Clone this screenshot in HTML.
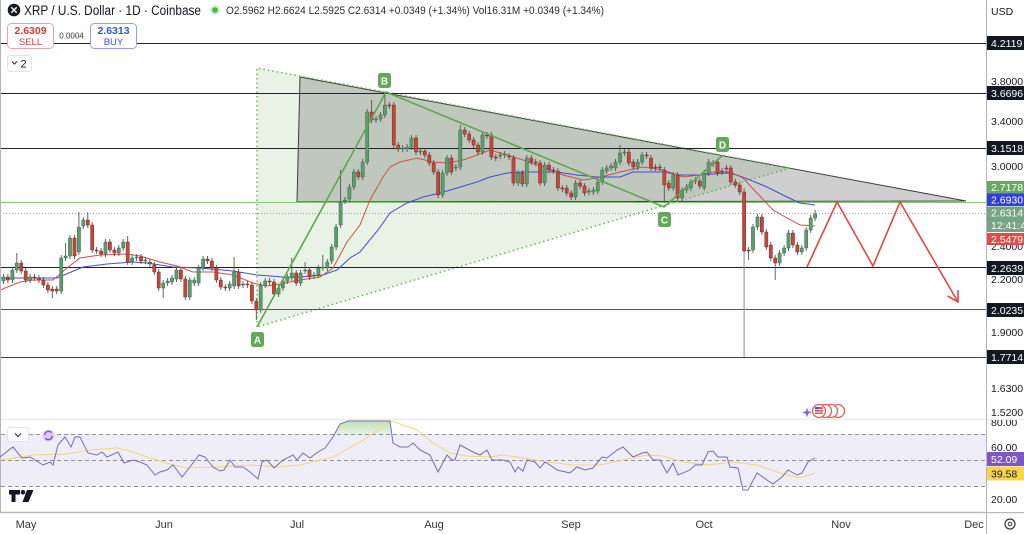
<!DOCTYPE html>
<html><head><meta charset="utf-8"><style>
html,body{margin:0;padding:0;background:#fff;}
svg{display:block;font-family:"Liberation Sans",sans-serif;}
</style></head><body>
<svg width="1024" height="534" viewBox="0 0 1024 534" xmlns="http://www.w3.org/2000/svg">
<defs>
<clipPath id="rsiclip"><rect x="0" y="420" width="1024" height="92"/></clipPath>
<linearGradient id="obg" x1="0" y1="0" x2="0" y2="1"><stop offset="0" stop-color="#bfe0b6"/><stop offset="1" stop-color="#e6f2e2"/></linearGradient>
</defs>
<rect width="1024" height="534" fill="#fff"/>

<!-- light green triangle -->
<polygon points="257,68 257,327 790,168" fill="#e9f3e5"/>
<!-- gray triangle -->
<polygon points="300,77 297,202 966,201" fill="rgba(105,105,105,0.32)" stroke="#3b3b3b" stroke-width="1"/>
<polyline points="257,327 257,68 790,168 257,327" fill="none" stroke="#6db35c" stroke-width="1.5" stroke-dasharray="1.5 3"/>

<!-- horizontal lines -->
<line x1="0" y1="202.5" x2="986" y2="202.5" stroke="#8bc17d" stroke-width="1"/>
<line x1="0" y1="213.5" x2="986" y2="213.5" stroke="#9a9a9a" stroke-width="1" stroke-dasharray="1 2"/>
<g stroke="#1e222d" stroke-width="1">
<line x1="0" y1="43.5" x2="986" y2="43.5"/>
<line x1="0" y1="93.5" x2="986" y2="93.5"/>
<line x1="0" y1="148.5" x2="986" y2="148.5"/>
<line x1="0" y1="267.5" x2="986" y2="267.5"/>
<line x1="0" y1="309.5" x2="986" y2="309.5" stroke="#555"/>
<line x1="0" y1="357.5" x2="986" y2="357.5" stroke="#444"/>
</g>

<!-- moving averages -->
<polyline fill="none" stroke="#3f4fd0" stroke-width="1" points="0,278 57,278 83,267 107,264 133,262 147,263 173,267 200,268 233,271 257,275 283,277 300,277 323,275 337,270 350,258 360,252 378,230 390,213 407,203 423,197 440,193 457,188 477,182 490,177 507,173 523,172 557,172 577,175 597,177 620,177 633,172 663,172 680,175 700,175 727,173 737,175 750,180 767,187 787,197 800,203 815,205"/>
<polyline fill="none" stroke="#c9524b" stroke-width="1" points="0,290 20,282 33,280 53,280 67,268 80,258 100,255 127,254 140,256 160,262 177,266 193,272 213,272 233,275 253,283 267,286 280,284 300,280 320,277 333,268 347,242 360,225 370,200 383,177 390,167 400,162 417,158 433,162 447,163 463,160 477,155 490,150 507,155 523,160 543,167 563,175 583,180 597,178 620,172 643,167 663,170 683,177 700,175 713,172 730,172 743,178 757,193 773,210 787,218 800,225 815,226"/>

<!-- crash wick -->
<line x1="744.1" y1="251" x2="744.1" y2="357" stroke="#8a8a8a" stroke-width="1"/>

<!-- wicks -->
<path fill="none" stroke="#555" stroke-width="0.9" d="M3.5 274V284M7.9 274V283M12.4 267V283M16.8 253V273M21.2 260V274M25.7 268V283M30.1 274V283M34.5 274V281M39 275V283M43.4 277V288M47.9 282V293M52.3 286V298M56.7 286V294M61.2 255V294M65.6 243V261M70 235V259M74.5 235V259M78.9 212V255M83.3 217V229M87.8 212V228M92.2 222V253M96.6 247V254M101.1 248V257M105.5 239V257M109.9 239V253M114.4 247V256M118.8 245V256M123.2 239V251M127.7 236V265M132.1 255V265M136.6 254V261M141 254V264M145.4 257V264M149.9 259V267M154.3 262V275M158.7 269V291M163.2 280V298M167.6 278V286M172 275V285M176.5 267V282M180.9 267V282M185.3 276V300M189.8 277V300M194.2 277V286M198.6 265V286M203.1 256V271M207.5 256V264M211.9 258V271M216.4 265V283M220.8 277V290M225.3 284V291M229.7 281V291M234.1 257V289M238.6 269V289M243 281V288M247.4 281V288M251.9 282V304M256.3 298V320M260.7 282V313M265.2 278V288M269.6 278V285M274 279V297M278.5 285V297M282.9 278V291M287.3 274V284M291.8 258V281M296.2 270V286M300.6 270V286M305.1 262V274M309.5 267V280M314 272V279M318.4 265V278M322.8 255V271M327.3 259V271M331.7 244V264M336.1 224V250M340.6 170V228M345 197V204M349.4 184V202M353.9 169V190M358.3 169V180M362.7 159V180M367.2 109V165M371.6 100V123M376 116V123M380.5 112V122M384.9 94V118M389.3 102V109M393.8 102V148M398.2 142V152M402.7 145V152M407.1 144V152M411.5 135V150M416 135V155M420.4 148V155M424.8 148V158M429.3 152V166M433.7 160V175M438.1 169V198M442.6 170V198M447 155V176M451.4 155V175M455.9 164V171M460.3 125V170M464.7 127V137M469.2 131V143M473.6 137V148M478 142V155M482.5 132V155M486.9 132V139M491.4 132V160M495.8 154V161M500.2 152V159M504.7 151V158M509.1 153V160M513.5 155V186M518 170V186M522.4 170V187M526.8 155V187M531.3 155V165M535.7 159V166M540.1 160V186M544.6 162V186M549 162V173M553.4 167V174M557.9 168V191M562.3 185V192M566.7 185V196M571.2 190V200M575.6 180V200M580.1 180V189M584.5 183V196M588.9 188V195M593.4 187V195M597.8 179V194M602.2 167V185M606.7 165V174M611.1 163V171M615.5 159V171M620 145V165M624.4 149V156M628.8 149V166M633.3 159V170M637.7 159V170M642.1 152V165M646.6 152V159M651 155V171M655.4 164V171M659.9 164V171M664.3 167V203M668.8 180V191M673.2 172V191M677.6 172V201M682.1 187V201M686.5 184V193M690.9 179V191M695.4 177V184M699.8 178V189M704.2 170V191M708.7 159V176M713.1 160V167M717.5 159V176M722 168V175M726.4 165V172M730.8 165V185M735.3 179V188M739.7 182V195M744.1 188V252M748.6 247V260M753 224V253M757.5 214V230M761.9 214V235M766.3 229V250M770.8 242V261M775.2 255V280M779.6 250V266M784.1 245V256M788.5 230V251M792.9 230V248M797.4 242V255M801.8 245V255M806.2 227V251M810.7 215V233M815.1 210V221"/>

<!-- green bodies -->
<path fill="#5c9d6e" stroke="#3b6b4a" stroke-width="0.5" d="M1.9 277h3.2V281h-3.2zM10.8 270h3.2V280h-3.2zM15.2 263h3.2V270h-3.2zM28.5 277h3.2V280h-3.2zM59.6 258h3.2V291h-3.2zM64 256h3.2V258h-3.2zM68.4 238h3.2V256h-3.2zM77.3 227h3.2V252h-3.2zM81.7 220h3.2V226h-3.2zM103.9 242h3.2V254h-3.2zM117.2 248h3.2V253h-3.2zM121.6 242h3.2V248h-3.2zM130.5 258h3.2V262h-3.2zM135 257h3.2V258h-3.2zM143.8 260h3.2V261h-3.2zM161.6 283h3.2V288h-3.2zM166 281h3.2V283h-3.2zM170.4 278h3.2V282h-3.2zM174.9 270h3.2V279h-3.2zM188.2 280h3.2V297h-3.2zM192.6 280h3.2V283h-3.2zM197 268h3.2V283h-3.2zM201.5 259h3.2V268h-3.2zM228.1 284h3.2V288h-3.2zM232.5 272h3.2V286h-3.2zM241.4 284h3.2V285h-3.2zM259.1 285h3.2V310h-3.2zM263.6 281h3.2V285h-3.2zM276.9 288h3.2V294h-3.2zM281.3 281h3.2V288h-3.2zM285.7 277h3.2V281h-3.2zM290.2 273h3.2V278h-3.2zM299 273h3.2V283h-3.2zM303.5 270h3.2V271h-3.2zM312.4 275h3.2V276h-3.2zM316.8 268h3.2V275h-3.2zM321.2 267h3.2V268h-3.2zM325.7 262h3.2V268h-3.2zM330.1 247h3.2V261h-3.2zM334.5 227h3.2V247h-3.2zM339 202h3.2V225h-3.2zM343.4 200h3.2V201h-3.2zM347.8 187h3.2V199h-3.2zM352.3 172h3.2V187h-3.2zM361.1 162h3.2V177h-3.2zM365.6 112h3.2V162h-3.2zM374.4 119h3.2V120h-3.2zM378.9 115h3.2V119h-3.2zM383.3 105h3.2V115h-3.2zM401.1 148h3.2V149h-3.2zM405.5 147h3.2V149h-3.2zM409.9 138h3.2V147h-3.2zM418.8 151h3.2V152h-3.2zM441 173h3.2V195h-3.2zM445.4 158h3.2V173h-3.2zM454.3 167h3.2V168h-3.2zM458.7 130h3.2V167h-3.2zM480.9 135h3.2V152h-3.2zM498.6 155h3.2V156h-3.2zM503.1 154h3.2V155h-3.2zM516.4 173h3.2V183h-3.2zM525.2 158h3.2V184h-3.2zM543 165h3.2V183h-3.2zM574 183h3.2V197h-3.2zM587.3 191h3.2V192h-3.2zM591.8 190h3.2V192h-3.2zM596.2 182h3.2V191h-3.2zM600.6 170h3.2V182h-3.2zM605.1 168h3.2V171h-3.2zM609.5 166h3.2V168h-3.2zM613.9 162h3.2V168h-3.2zM618.4 153h3.2V162h-3.2zM622.8 152h3.2V153h-3.2zM636.1 162h3.2V167h-3.2zM640.5 155h3.2V162h-3.2zM671.6 175h3.2V188h-3.2zM680.5 190h3.2V198h-3.2zM684.9 187h3.2V190h-3.2zM689.3 182h3.2V188h-3.2zM693.8 180h3.2V181h-3.2zM702.6 173h3.2V188h-3.2zM707.1 162h3.2V173h-3.2zM751.4 227h3.2V250h-3.2zM755.9 217h3.2V227h-3.2zM778 253h3.2V263h-3.2zM782.5 248h3.2V253h-3.2zM786.9 233h3.2V248h-3.2zM800.2 248h3.2V252h-3.2zM804.6 230h3.2V248h-3.2zM809.1 218h3.2V230h-3.2zM813.5 214h3.2V218h-3.2z"/>

<!-- red bodies -->
<path fill="#c2473d" stroke="#7a2a22" stroke-width="0.5" d="M6.3 277h3.2V280h-3.2zM19.6 263h3.2V271h-3.2zM24.1 271h3.2V280h-3.2zM32.9 277h3.2V278h-3.2zM37.4 278h3.2V280h-3.2zM41.8 280h3.2V285h-3.2zM46.3 285h3.2V290h-3.2zM50.7 289h3.2V291h-3.2zM55.1 289h3.2V291h-3.2zM72.9 238h3.2V256h-3.2zM86.2 220h3.2V225h-3.2zM90.6 225h3.2V250h-3.2zM95 250h3.2V251h-3.2zM99.5 251h3.2V254h-3.2zM108.3 242h3.2V250h-3.2zM112.8 250h3.2V253h-3.2zM126.1 242h3.2V262h-3.2zM139.4 257h3.2V261h-3.2zM148.3 262h3.2V264h-3.2zM152.7 265h3.2V272h-3.2zM157.1 272h3.2V288h-3.2zM179.3 270h3.2V279h-3.2zM183.7 279h3.2V297h-3.2zM205.9 259h3.2V261h-3.2zM210.3 261h3.2V268h-3.2zM214.8 268h3.2V280h-3.2zM219.2 280h3.2V287h-3.2zM223.7 287h3.2V288h-3.2zM237 272h3.2V286h-3.2zM245.8 284h3.2V285h-3.2zM250.3 285h3.2V301h-3.2zM254.7 301h3.2V310h-3.2zM268 281h3.2V282h-3.2zM272.4 282h3.2V294h-3.2zM294.6 273h3.2V283h-3.2zM307.9 270h3.2V277h-3.2zM356.7 172h3.2V177h-3.2zM370 112h3.2V120h-3.2zM387.7 105h3.2V106h-3.2zM392.2 105h3.2V145h-3.2zM396.6 145h3.2V149h-3.2zM414.4 138h3.2V152h-3.2zM423.2 151h3.2V155h-3.2zM427.7 155h3.2V163h-3.2zM432.1 163h3.2V172h-3.2zM436.5 172h3.2V195h-3.2zM449.8 158h3.2V172h-3.2zM463.1 130h3.2V134h-3.2zM467.6 134h3.2V140h-3.2zM472 140h3.2V145h-3.2zM476.4 145h3.2V152h-3.2zM485.3 135h3.2V136h-3.2zM489.8 135h3.2V157h-3.2zM494.2 157h3.2V158h-3.2zM507.5 156h3.2V157h-3.2zM511.9 158h3.2V183h-3.2zM520.8 173h3.2V184h-3.2zM529.7 158h3.2V162h-3.2zM534.1 162h3.2V163h-3.2zM538.5 163h3.2V183h-3.2zM547.4 165h3.2V170h-3.2zM551.8 170h3.2V171h-3.2zM556.3 171h3.2V188h-3.2zM560.7 188h3.2V189h-3.2zM565.1 188h3.2V193h-3.2zM569.6 193h3.2V197h-3.2zM578.5 183h3.2V186h-3.2zM582.9 186h3.2V193h-3.2zM627.2 152h3.2V163h-3.2zM631.7 162h3.2V167h-3.2zM645 155h3.2V156h-3.2zM649.4 158h3.2V168h-3.2zM653.8 167h3.2V168h-3.2zM658.3 167h3.2V168h-3.2zM662.7 170h3.2V185h-3.2zM667.2 183h3.2V188h-3.2zM676 175h3.2V198h-3.2zM698.2 181h3.2V186h-3.2zM711.5 163h3.2V164h-3.2zM715.9 162h3.2V173h-3.2zM720.4 171h3.2V172h-3.2zM724.8 168h3.2V169h-3.2zM729.2 168h3.2V182h-3.2zM733.7 182h3.2V185h-3.2zM738.1 185h3.2V192h-3.2zM742.5 192h3.2V251h-3.2zM747 250h3.2V251h-3.2zM760.3 217h3.2V232h-3.2zM764.7 232h3.2V247h-3.2zM769.2 245h3.2V258h-3.2zM773.6 258h3.2V263h-3.2zM791.3 233h3.2V245h-3.2zM795.8 245h3.2V252h-3.2z"/>

<!-- ABCD pattern -->
<polyline points="257,327 386,92 664,207 723,155" fill="none" stroke="#5fa552" stroke-width="1.6"/>
<g font-size="10" font-weight="bold" fill="#fff" text-anchor="middle">
<rect x="251" y="332" width="13" height="15" rx="2.5" fill="#64a85a"/><text x="257.5" y="343.5">A</text>
<rect x="378" y="73" width="13" height="15" rx="2.5" fill="#64a85a"/><text x="384.5" y="84.5">B</text>
<rect x="658" y="212" width="13" height="15" rx="2.5" fill="#64a85a"/><text x="664.5" y="223.5">C</text>
<rect x="716" y="137" width="13" height="15" rx="2.5" fill="#64a85a"/><text x="722.5" y="148.5">D</text>
</g>

<!-- red projection arrow -->
<polyline points="807,267 837,202 873,266 900,202 958,302" fill="none" stroke="#e04848" stroke-width="1.6" stroke-linejoin="miter"/>
<polyline points="947.6,296 958,302 958,290" fill="none" stroke="#e04848" stroke-width="1.6"/>

<!-- events icons -->
<path d="M807 407.5L808.2 411.3L812 412.5L808.2 413.7L807 417.5L805.8 413.7L802 412.5L805.8 411.3Z" fill="#8a5cf0"/>
<g stroke="#e25c5c" stroke-width="1.3" fill="#fff">
<circle cx="838" cy="411" r="6.5"/><circle cx="831" cy="411" r="6.5"/><circle cx="825" cy="411" r="6.5"/><circle cx="819" cy="411" r="6.5"/>
</g>
<rect x="815" y="407" width="8" height="7" fill="#e25c5c"/><rect x="815" y="407" width="4" height="3.5" fill="#3b55b5"/>
<line x1="815" y1="409.5" x2="823" y2="409.5" stroke="#fff" stroke-width="0.8"/><line x1="815" y1="412" x2="823" y2="412" stroke="#fff" stroke-width="0.8"/>

<!-- pane separators / axes -->
<line x1="0" y1="419.5" x2="986" y2="419.5" stroke="#e6e8ee" stroke-width="1"/>
<line x1="0.5" y1="0" x2="0.5" y2="512" stroke="#b2b5be" stroke-width="1"/>
<line x1="986.5" y1="0" x2="986.5" y2="534" stroke="#b2b5be" stroke-width="1"/>
<line x1="0" y1="512.5" x2="1024" y2="512.5" stroke="#b8bbc2" stroke-width="1.5"/>

<!-- RSI pane -->
<rect x="1" y="434" width="985" height="52" fill="#efedf8"/>
<g stroke="#8f9199" stroke-width="1" stroke-dasharray="4 3">
<line x1="1" y1="434.5" x2="986" y2="434.5"/>
<line x1="1" y1="460.5" x2="986" y2="460.5"/>
<line x1="1" y1="486.5" x2="986" y2="486.5"/>
</g>
<g clip-path="url(#rsiclip)">
<polygon points="335,434 340,424 348,421 390,421 392,434" fill="url(#obg)"/>
<polyline fill="none" stroke="#f0d67a" stroke-width="1" points="0,460 33,455 67,454 90,450 117,448 130,451 150,458 173,465 187,468 217,467 250,465 277,467 300,465 333,457 360,442 392,421 417,430 433,443 450,453 467,456 490,457 503,455 523,458 547,462 573,465 600,465 623,460 647,455 663,456 683,462 707,465 733,462 757,465 780,473 800,478 815,473"/>
<polyline fill="none" stroke="#7a69b8" stroke-width="1" points="0,457 13,447 22,458 30,457 43,465 50,462 53,465 58,445 65,437 71,447 75,437 80,437 88,453 97,455 102,452 107,457 118,452 124,463 133,460 140,462 147,465 155,475 160,472 167,470 173,465 182,477 190,467 199,455 205,457 213,467 220,471 224,470 230,460 235,467 243,467 250,472 258,479 262,462 267,460 274,468 283,460 293,455 297,460 303,453 310,458 318,452 325,448 333,437 340,424 348,421 390,421 393,443 400,447 408,447 413,443 420,450 430,455 438,472 447,455 452,460 455,460 460,445 473,452 480,455 487,450 492,460 503,460 510,462 515,472 518,467 523,471 527,460 535,462 540,468 545,462 550,465 557,470 570,473 577,467 585,470 593,468 602,457 607,458 617,450 623,447 633,457 642,453 647,452 653,460 660,460 667,473 673,463 678,475 690,470 695,465 702,465 708,452 713,451 718,457 727,457 730,467 738,468 743,490 748,490 757,473 767,480 773,484 782,477 788,470 797,475 802,473 808,462 815,458"/>
</g>
<rect x="7.5" y="427.5" width="21" height="14" rx="3" fill="#fff" stroke="#e0e3eb"/>
<path d="M15 433.5l3 3l3-3" fill="none" stroke="#333" stroke-width="1.1"/>
<circle cx="48.5" cy="435.5" r="6" fill="#d9cdf5"/>
<path d="M44.8 435a3.8 3.8 0 0 1 6.8-2.2M52.2 436a3.8 3.8 0 0 1-6.8 2.2" fill="none" stroke="#7e57c2" stroke-width="1.4"/>
<!-- TV logo -->
<path d="M9 490h11v4.5h-4.5V502h-4V494.5H9z" fill="#131722"/>
<circle cx="23" cy="492.3" r="2.3" fill="#131722"/>
<path d="M27 490h6.5l-5 12h-6z" fill="#131722"/>

<!-- header -->
<circle cx="14" cy="10" r="6.3" fill="#131722"/>
<path d="M11.3 7.3l5.4 5.4M16.7 7.3l-5.4 5.4" stroke="#fff" stroke-width="1.4"/>
<text x="24" y="15" font-size="13.5" fill="#131722" textLength="177" lengthAdjust="spacingAndGlyphs">XRP / U.S. Dollar · 1D · Coinbase</text>
<circle cx="215" cy="10" r="5" fill="rgba(76,175,80,0.25)"/>
<circle cx="215" cy="10" r="2.8" fill="#4caf50"/>
<text x="226" y="14" font-size="11" fill="#2a2e39" textLength="378" lengthAdjust="spacingAndGlyphs">O2.5962 H2.6624 L2.5925 C2.6314 +0.0349 (+1.34%) Vol16.31M +0.0349 (+1.34%)</text>

<rect x="7.5" y="23.5" width="46" height="25" rx="4" fill="#fff" stroke="#eea4a4"/>
<text x="30.5" y="34" font-size="10.5" fill="#d23c3c" text-anchor="middle" font-weight="bold">2.6309</text>
<text x="30.5" y="45" font-size="9.5" fill="#d23c3c" text-anchor="middle">SELL</text>
<text x="71.5" y="38.5" font-size="8" fill="#333" text-anchor="middle">0.0004</text>
<rect x="90.5" y="23.5" width="46" height="25" rx="4" fill="#fff" stroke="#8aa4ee"/>
<text x="113.5" y="34" font-size="10.5" fill="#3356d6" text-anchor="middle" font-weight="bold">2.6313</text>
<text x="113.5" y="45" font-size="9.5" fill="#3356d6" text-anchor="middle">BUY</text>
<rect x="7.5" y="55.5" width="24" height="16" rx="3" fill="#fff" stroke="#e0e3eb"/>
<path d="M12 61.5l2.5 2.5l2.5-2.5" fill="none" stroke="#333" stroke-width="1.1"/>
<text x="20.5" y="67.5" font-size="11" fill="#131722">2</text>

<!-- right axis -->
<rect x="987" y="0" width="37" height="512" fill="#fff"/>
<text x="991" y="15" font-size="10.5" fill="#131722">USD</text>
<g font-size="10.5" fill="#131722">
<text x="991" y="85">3.8000</text>
<text x="991" y="125">3.4000</text>
<text x="991" y="170">3.0000</text>
<text x="991" y="250">2.4000</text>
<text x="991" y="283">2.2000</text>
<text x="991" y="310">2.1000</text>
<text x="991" y="336">1.9000</text>
<text x="991" y="392">1.6300</text>
<text x="991" y="416">1.5200</text>
<text x="991" y="451">60.00</text>
<text x="991" y="503">20.00</text>
</g>
<g clip-path="url(#rsiclip)"><text x="991" y="426" font-size="10.5" fill="#131722">80.00</text></g>
<line x1="987" y1="419.5" x2="1024" y2="419.5" stroke="#e6e8ee"/>
<g font-size="10.5" fill="#fff">
<rect x="987" y="36" width="37" height="14" fill="#131722"/><text x="991" y="47">4.2119</text>
<rect x="987" y="86" width="37" height="14" fill="#131722"/><text x="991" y="97">3.6696</text>
<rect x="987" y="141" width="37" height="14" fill="#131722"/><text x="991" y="152">3.1518</text>
<rect x="987" y="261" width="37" height="14" fill="#131722"/><text x="991" y="272">2.2639</text>
<rect x="987" y="303" width="37" height="14" fill="#131722"/><text x="991" y="314">2.0235</text>
<rect x="987" y="350" width="37" height="14" fill="#131722"/><text x="991" y="361">1.7714</text>
<rect x="987" y="181" width="37" height="12.5" fill="#6aa75e"/><text x="991" y="191">2.7178</text>
<rect x="987" y="193.5" width="37" height="12.5" fill="#2f3fd8"/><text x="991" y="203.5">2.6930</text>
<rect x="987" y="206.5" width="37" height="25.5" fill="#76a383"/><text x="991" y="216.5">2.6314</text><text x="991" y="229">12:41:46</text>
<rect x="987" y="233" width="37" height="12" fill="#e24b4b"/><text x="991" y="243">2.5479</text>
<rect x="987" y="452" width="37" height="14" fill="#7e57c2"/><text x="991" y="463">52.09</text>
</g>
<rect x="987" y="466.5" width="37" height="14" fill="#f7d54a"/><text x="991" y="477.5" font-size="10.5" fill="#131722">39.58</text>

<!-- time axis -->
<rect x="0" y="513.5" width="1024" height="20.5" fill="#fff"/>
<line x1="986.5" y1="513" x2="986.5" y2="534" stroke="#b2b5be"/>
<g font-size="11" fill="#333" text-anchor="middle">
<text x="26" y="528">May</text>
<text x="164" y="528">Jun</text>
<text x="297" y="528">Jul</text>
<text x="434" y="528">Aug</text>
<text x="571" y="528">Sep</text>
<text x="704" y="528">Oct</text>
<text x="841" y="528">Nov</text>
<text x="974" y="528">Dec</text>
</g>
<circle cx="1010" cy="524" r="5" fill="none" stroke="#333" stroke-width="1.2"/>
<circle cx="1010" cy="524" r="1.8" fill="none" stroke="#333" stroke-width="1"/>
</svg>
</body></html>
